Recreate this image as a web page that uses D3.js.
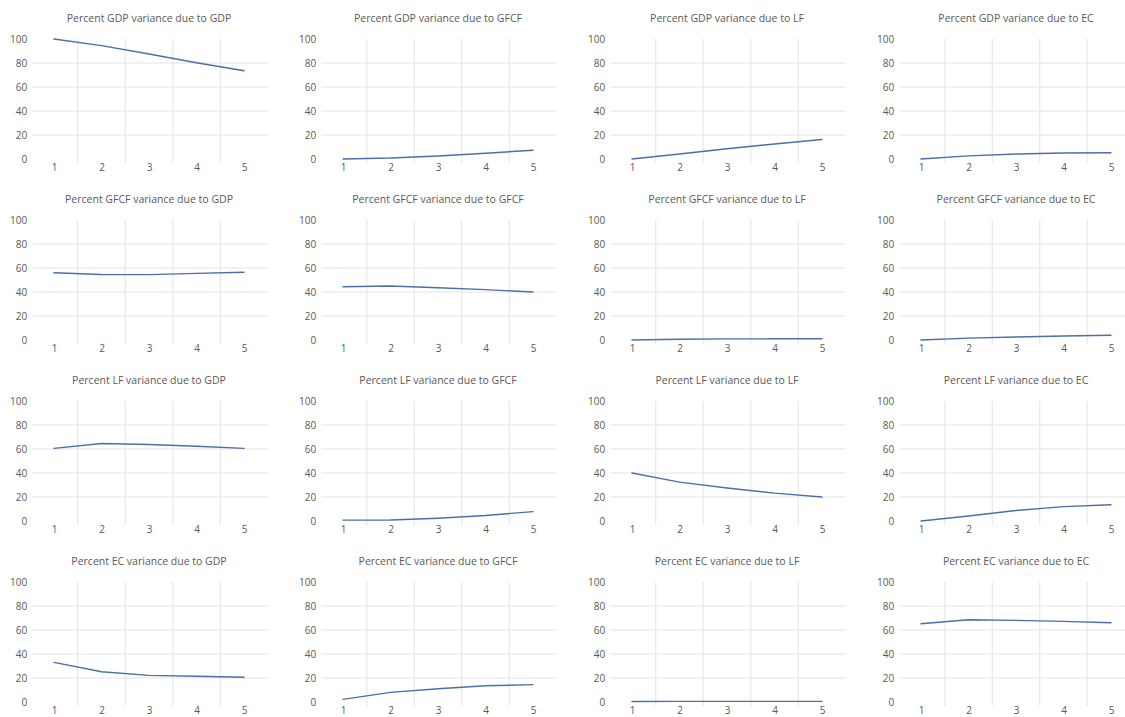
<!DOCTYPE html>
<html>
<head>
<meta charset="utf-8">
<script src="https://cdn.jsdelivr.net/npm/d3@7"></script>
<style>
  html, body { margin: 0; padding: 0; background: #ffffff; }
  svg { display: block; }
  text { font-family: "Open Sans", "Noto Sans", sans-serif; fill: #595959; }
</style>
</head>
<body>
<svg id="chart" width="1125" height="717"></svg>
<script>
// Forecast horizon (periods) and variables of the variance decomposition
const periods = [1, 2, 3, 4, 5];
const responses = ["GDP", "GFCF", "LF", "EC"];
const shocks = ["GDP", "GFCF", "LF", "EC"];
const yTicks = [0, 20, 40, 60, 80, 100];
const gridValues = [20, 40, 60, 80];

// Percent of each variable's forecast-error variance explained by each shock
// (one row per shock: GDP, GFCF, LF, EC)
const gdpShares = [
  [100, 94.5, 87.5, 80.2, 73.5],
  [0, 0.8, 2.5, 4.8, 7.3],
  [0, 4.2, 8.5, 12.5, 16.3],
  [0, 2.6, 4.2, 5.0, 5.2]
];
const gfcfShares = [
  [56.0, 54.6, 54.5, 55.5, 56.5],
  [44.4, 45.0, 43.6, 42.0, 40.0],
  [0, 0.6, 0.9, 1.0, 1.0],
  [0, 1.6, 2.5, 3.3, 4.0]
];
const lfShares = [
  [60.5, 64.6, 63.8, 62.3, 60.5],
  [0.7, 0.8, 2.3, 4.6, 7.8],
  [40.0, 32.4, 27.5, 23.2, 20.0],
  [0, 4.2, 8.8, 12.0, 13.6]
];
const ecShares = [
  [33.0, 25.2, 22.2, 21.4, 20.6],
  [2.2, 8.0, 11.0, 13.5, 14.5],
  [0.4, 0.5, 0.5, 0.5, 0.5],
  [65.2, 68.6, 68.0, 67.2, 66.0]
];
const sharesByResponse = [gdpShares, gfcfShares, lfShares, ecShares];

const svg = d3.select("#chart");

const colStep = 289;      // horizontal distance between panel columns
const rowStep = 181;      // vertical distance between panel rows
const plotWidth = 190;    // distance from period 1 to period 5
const plotHeight = 120;   // height of the 0-100 value range

responses.forEach((resp, r) => {
  shocks.forEach((shock, c) => {
    const x0 = 54 + c * colStep;
    const y0 = 159 + r * rowStep;
    const values = sharesByResponse[r][c];

    const x = d3.scalePoint().domain(periods).range([x0, x0 + plotWidth]);
    const y = d3.scaleLinear().domain([0, 100]).range([y0, y0 - plotHeight]);
    const half = x.step() / 2;
    const left = x0 - half;
    const right = x0 + plotWidth + half;

    const g = svg.append("g");

    // horizontal gridlines
    g.selectAll("line.hgrid").data(gridValues).join("line")
      .attr("class", "hgrid")
      .attr("x1", left + 2).attr("x2", right)
      .attr("y1", d => y(d)).attr("y2", d => y(d))
      .attr("stroke", "#e3e3e3").attr("stroke-width", 1);

    // vertical gridlines between periods
    g.selectAll("line.vgrid").data(periods.slice(1)).join("line")
      .attr("class", "vgrid")
      .attr("x1", d => x(d) - half).attr("x2", d => x(d) - half)
      .attr("y1", y(100)).attr("y2", y(0) + 4)
      .attr("stroke", "#e3e3e3").attr("stroke-width", 1);

    // value axis labels
    const yAxis = g.append("g")
      .attr("transform", `translate(${left},0)`)
      .call(d3.axisLeft(y).tickValues(yTicks).tickSize(0).tickPadding(3));
    yAxis.select(".domain").remove();
    yAxis.selectAll("text")
      .style("font-family", '"Open Sans", sans-serif')
      .style("font-size", "10px").attr("fill", "#595959");

    // period axis labels
    const xAxis = g.append("g")
      .attr("transform", `translate(0,${y0})`)
      .call(d3.axisBottom(x).tickSize(0).tickPadding(5));
    xAxis.select(".domain").remove();
    xAxis.selectAll("text")
      .style("font-family", '"Open Sans", sans-serif')
      .style("font-size", "10px").attr("fill", "#595959");

    // panel title
    g.append("text")
      .attr("x", x0 + plotWidth / 2)
      .attr("y", y(100) - 17)
      .attr("text-anchor", "middle")
      .style("font-size", "10.5px")
      .text(`Percent ${resp} variance due to ${shock}`);

    // variance share line
    const line = d3.line()
      .x((d, i) => x(periods[i]))
      .y(d => y(d));
    g.append("path")
      .datum(values)
      .attr("d", line)
      .attr("fill", "none")
      .attr("stroke", "#4a6fa9")
      .attr("stroke-width", 1.4)
      .attr("stroke-linejoin", "round")
      .attr("stroke-linecap", "round");
  });
});
</script>
</body>
</html>
